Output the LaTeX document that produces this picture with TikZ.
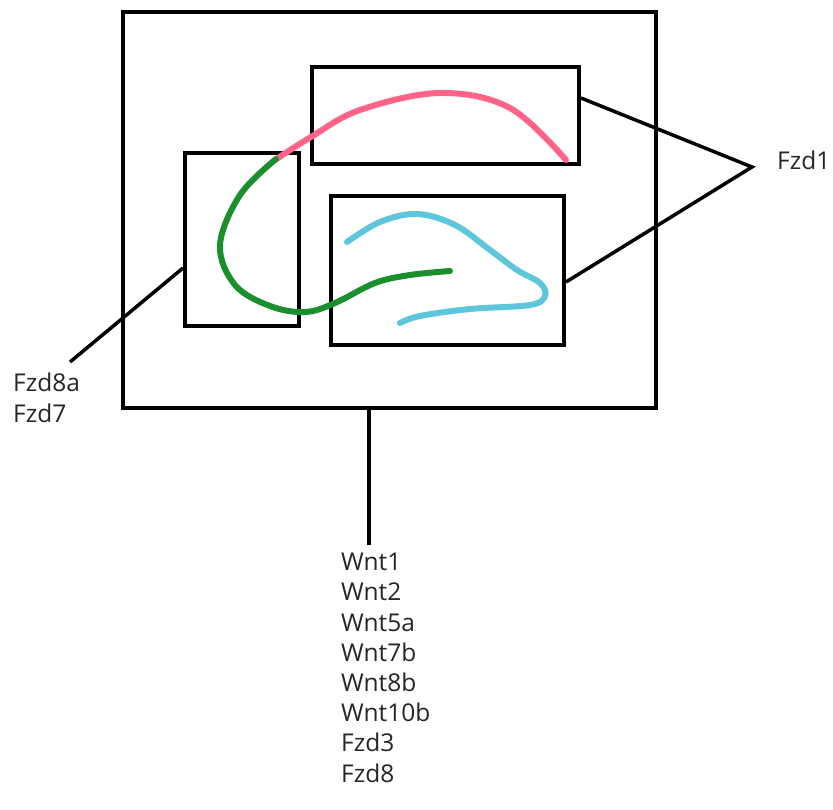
\documentclass[tikz,border=0pt]{standalone}
\usepackage{fontspec}
\setmainfont{Open Sans}
\definecolor{pinkc}{HTML}{FF6388}
\definecolor{greenc}{HTML}{1A8F2E}
\definecolor{bluec}{HTML}{5EC6DB}
\tikzset{
  box/.style={draw=black, line width=4pt, rectangle, inner sep=0pt},
  conn/.style={draw=black, line width=3.5pt},
  curve/.style={line width=6pt, line cap=round},
  lab/.style={font=\fontsize{24.5}{30.2}\selectfont, align=left, inner sep=0pt, text=black!85}
}
\begin{document}
\begin{tikzpicture}[x=1pt,y=-1pt]
\useasboundingbox (0,0) rectangle (833,810);
\node[box, minimum width=533pt, minimum height=396pt] (outer) at (389.5,210) {};
\node[box, minimum width=267pt, minimum height=97pt] (tb) at (445.5,115.5) {};
\node[box, minimum width=114pt, minimum height=173pt] (lb) at (242,239.5) {};
\node[box, minimum width=233pt, minimum height=149pt] (rb) at (447.5,270.5) {};
% curves
\draw[curve, pinkc] plot[smooth, tension=0.6] coordinates {(275,160) (311,137) (360,110) (440,93) (510,108) (566,160)};
\draw[curve, greenc] plot[smooth, tension=0.6] coordinates {(276,159) (240,195) (220,245) (235,285) (270,306) (305,312) (335,303) (375,283) (410,275) (450,271)};
\draw[curve, bluec] plot[smooth, tension=0.6] coordinates {(347,242) (380,222) (417,214) (455,225) (490,250) (517,270) (540,283) (545,296) (530,305) (470,309) (420,316) (400,323)};
% labels
\node[lab, anchor=north west] (l8) at (13,373) {Fzd8a\\Fzd7};
\coordinate (l8end) at (70,362);
\node[lab, anchor=west] (f1) at (777,160) {Fzd1};
\coordinate (apex) at (752,167);
\node[lab, anchor=north west] (wl) at (341,553) {Wnt1\\Wnt2\\Wnt5a\\Wnt7b\\Wnt8b\\Wnt10b\\Fzd3\\Fzd8};
\coordinate (wend) at (369,545);
% connectors
\draw[conn] ([yshift=-28.5pt]lb.west) -- (l8end);
\draw[conn] ([yshift=17.5pt]tb.east) -- (apex) -- ([yshift=-11.5pt]rb.east);
\draw[conn] ([xshift=-20.5pt]outer.south) -- (wend);
\end{tikzpicture}
\end{document}
